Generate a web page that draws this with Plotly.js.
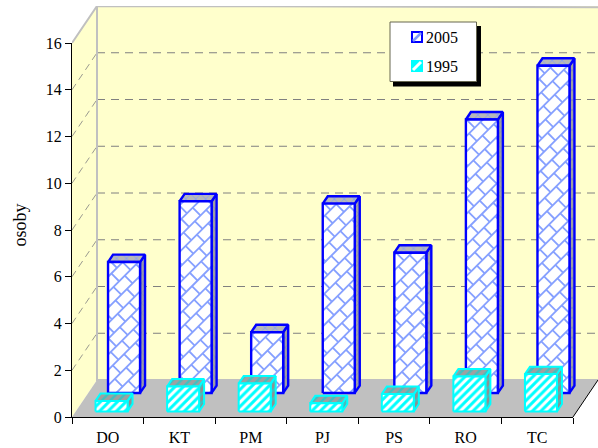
<!DOCTYPE html>
<html><head><meta charset="utf-8">
<script src="https://cdn.plot.ly/plotly-3.0.1.min.js"></script>
<style>html,body{margin:0;padding:0;background:#fff}</style></head>
<body><div id="chart" style="width:598px;height:448px"></div>
<script>
const categories = ['DO','KT','PM','PJ','PS','RO','TC'];
const values2005 = [5.6,8.2,2.6,8.1,6.0,11.7,14.0];
const values1995 = [0.45,1.07,1.2,0.35,0.75,1.5,1.6];
const yTicks = [0,2,4,6,8,10,12,14,16];
const gridValues = [2,4,6,8,10,12,14];
const legendNames = ['2005','1995'];

const plotL=72, plotR=573, plotT=43, plotB=417, backX=598, backT=6;
const PXX=(plotR-plotL)/7, PXY=(plotB-plotT)/16;
const FLOOR_DX=(backX-plotR)/PXX, FLOOR_DY=(plotT-backT)/PXY;
const W=32/PXX, BOX=0.2, RIGHT=6.5, F='Liberation Serif, Times New Roman, serif', FS=16;
const traces=[];
function poly(xs,ys,opt){
  traces.push(Object.assign({type:'scatter',mode:'lines',x:xs,y:ys,showlegend:false,hoverinfo:'skip',line:{width:0}},opt));
}
const WALLC='#FFFFCC',EDGE='#C0C0C0',GRID='#808080';
const bx=-0.5+FLOOR_DX, rx=RIGHT+FLOOR_DX;
poly([-0.5,bx,bx,-0.5,-0.5],[16,16+FLOOR_DY,FLOOR_DY,0,16],{fill:'toself',fillcolor:WALLC});
poly([bx,rx,rx,bx,bx],[16+FLOOR_DY,16+FLOOR_DY,FLOOR_DY,FLOOR_DY,16+FLOOR_DY],{fill:'toself',fillcolor:WALLC});
poly([-0.5,RIGHT,rx,bx,-0.5],[0,0,FLOOR_DY,FLOOR_DY,0],{fill:'toself',fillcolor:EDGE});
gridValues.forEach(v=>{
  poly([bx,rx],[v+FLOOR_DY,v+FLOOR_DY],{line:{color:GRID,width:1,dash:'8px,6px'}});
  poly([-0.5,bx],[v,v+FLOOR_DY],{line:{color:GRID,width:0.8,dash:'7px,5px'}});
});
poly([-0.5,bx,rx],[16,16+FLOOR_DY,16+FLOOR_DY-0.05],{line:{color:EDGE,width:2}});
poly([bx,bx,rx],[16+FLOOR_DY,FLOOR_DY,FLOOR_DY],{line:{color:EDGE,width:2}});
poly([RIGHT,rx],[0,FLOOR_DY],{line:{color:'#000',width:1}});

function clip(a,b,r){
  let t0=0,t1=1;const dx=b[0]-a[0],dy=b[1]-a[1];
  const ps=[-dx,dx,-dy,dy],qs=[a[0]-r.x0,r.x1-a[0],a[1]-r.y0,r.y1-a[1]];
  for(let i=0;i<4;i++){
    if(ps[i]===0){if(qs[i]<0)return null;continue;}
    const t=qs[i]/ps[i];
    if(ps[i]<0){if(t>t1)return null;if(t>t0)t0=t;}else{if(t<t0)return null;if(t<t1)t1=t;}
  }
  return [[a[0]+t0*dx,a[1]+t0*dy],[a[0]+t1*dx,a[1]+t1*dy]];
}
function bricks(x0,x1,y0,y1){
  const r={x0:x0*PXX,x1:x1*PXX,y0:y0*PXY,y1:y1*PXY};
  const P=11,Q=16,xs=[],ys=[];
  const add=(a,b)=>{const c=clip(a,b,r);if(c){xs.push(c[0][0]/PXX,c[1][0]/PXX,null);ys.push(c[0][1]/PXY,c[1][1]/PXY,null);}};
  const s=Math.SQRT1_2, pt=(u,v)=>[(u+v)*s,(v-u)*s];
  for(let k=-200;k<200;k++){
    const u=k*P;
    add(pt(u,-2000),pt(u,2000));
    for(let m=-220;m<220;m++){
      const v=m*Q+(k%2===0?0:Q/2);
      const a=pt(u,v),b=pt(u+P,v);
      if(a[0]>r.x0-20&&a[0]<r.x1+20&&a[1]>r.y0-20&&a[1]<r.y1+20) add(a,b);
    }
  }
  return {xs,ys};
}
function bar(i,val,depth,c){
  const x0=i+FLOOR_DX*depth-W/2,x1=x0+W,y0=FLOOR_DY*depth,y1=y0+val;
  const dx=FLOOR_DX*BOX,dy=FLOOR_DY*BOX;
  poly([x1,x1+dx,x1+dx,x1,x1],[y0,y0+dy,y1+dy,y1,y0],{fill:'toself',fillcolor:c.side,fillpattern:c.sidePat,line:{color:c.line,width:c.lw}});
  poly([x0,x0+dx,x1+dx,x1,x0],[y1,y1+dy,y1+dy,y1,y1],{fill:'toself',fillcolor:c.side,fillpattern:c.topPat,line:{color:c.line,width:c.lw}});
  poly([x0,x1,x1,x0,x0],[y0,y0,y1,y1,y0],c.frontPat?{fill:'toself',fillcolor:'#fff',fillpattern:c.frontPat}:{fill:'toself',fillcolor:'#fff'});
  if(c.brick){const b=bricks(x0,x1,y0,y1);poly(b.xs,b.ys,{line:{color:c.brick,width:1.8}});}
  poly([x0,x1,x1,x0,x0],[y0,y0,y1,y1,y0],{line:{color:c.line,width:c.lw}});
}
const style2005={line:'#0000FF',lw:2.4,side:'#A8A8A8',brick:'#86A0FF',
  sidePat:{shape:'x',fgcolor:'#6E7CC8',bgcolor:'#A0A0A0',size:7,solidity:0.15},
  topPat:{shape:'x',fgcolor:'#7F9CFF',bgcolor:'#B8B8B8',size:7,solidity:0.2}};
const style1995={line:'#00FFFF',lw:2,side:'#8FA8A8',
  frontPat:{shape:'/',fgcolor:'#00FFFF',bgcolor:'#FFFFFF',size:6,solidity:0.5},
  sidePat:{shape:'/',fgcolor:'#40C0C0',bgcolor:'#909090',size:6,solidity:0.4},
  topPat:{shape:'/',fgcolor:'#40C0C0',bgcolor:'#A0A0A0',size:6,solidity:0.4}};
values2005.forEach((v,i)=>bar(i,v,0.65,style2005));
values1995.forEach((v,i)=>bar(i,v,0.15,style1995));
traces.push({type:'scatter',mode:'none',x:[0],y:[0],xaxis:'x2',yaxis:'y2',showlegend:false,hoverinfo:'skip'});

const fx=v=>(v-plotL)/(backX-plotL), fy=v=>(plotB-v)/(plotB-backT);
const rect=(x0,y0,x1,y1,fill,line)=>({type:'rect',xref:'paper',yref:'paper',x0:fx(x0),x1:fx(x1),y0:fy(y1),y1:fy(y0),fillcolor:fill,line:line||{width:0},layer:'above'});
const seg=(x0,y0,x1,y1,color,w)=>({type:'line',xref:'paper',yref:'paper',x0:fx(x0),x1:fx(x1),y0:fy(y0),y1:fy(y1),line:{color,width:w},layer:'above'});
const tf={family:F,size:FS,color:'#000'};
const layout={
  width:598,height:448,margin:{l:plotL,r:0,t:backT,b:448-plotB},
  paper_bgcolor:'#fff',plot_bgcolor:'rgba(0,0,0,0)',showlegend:false,hovermode:false,font:tf,
  xaxis:{domain:[0,1],range:[-0.5,-0.5+(backX-plotL)/PXX],visible:false,fixedrange:true},
  yaxis:{domain:[0,1],range:[0,(plotB-backT)/PXY],visible:false,fixedrange:true},
  xaxis2:{anchor:'y2',domain:[0,fx(plotR)],range:[-0.5,6.5],tickvals:categories.map((c,i)=>i),ticktext:categories,ticks:'',ticklabelstandoff:6,
    minor:{tickvals:[-0.5,0.5,1.5,2.5,3.5,4.5,5.5,6.5],ticks:'outside',ticklen:6,tickcolor:'#000',tickwidth:1,showgrid:false},
    showgrid:false,zeroline:false,showline:true,linecolor:'#000',linewidth:1,tickfont:tf,fixedrange:true},
  yaxis2:{anchor:'x2',domain:[0,fy(plotT)],range:[0,16],tickvals:yTicks,ticks:'outside',ticklen:6,tickcolor:'#000',tickwidth:1,showgrid:false,zeroline:false,showline:true,linecolor:'#000',linewidth:1,tickfont:tf,fixedrange:true},
  shapes:[
    rect(393,26,481,86.5,'#000'),
    rect(390,22,476.5,81.5,'#fff',{color:'#666650',width:1}),
    rect(412,32,422,42,'#fff',{color:'#0000FF',width:2}),
    seg(413,41,421,33,'#7F9CFF',2.5),
    rect(412,61,422,71,'#00FFFF',{color:'#00FFFF',width:2}),
    seg(413,70,421,62,'#fff',3),
  ],
  annotations:[
    {xref:'paper',yref:'paper',x:fx(424),y:fy(37),text:legendNames[0],showarrow:false,xanchor:'left',yanchor:'middle',font:tf},
    {xref:'paper',yref:'paper',x:fx(424),y:fy(66),text:legendNames[1],showarrow:false,xanchor:'left',yanchor:'middle',font:tf},
    {xref:'paper',yref:'paper',x:fx(20),y:fy(225.5),text:'osoby',textangle:-90,showarrow:false,xanchor:'center',yanchor:'middle',font:{family:F,size:18,color:'#000'}},
  ]
};
Plotly.newPlot('chart',traces,layout,{displayModeBar:false,staticPlot:true});
</script></body></html>
